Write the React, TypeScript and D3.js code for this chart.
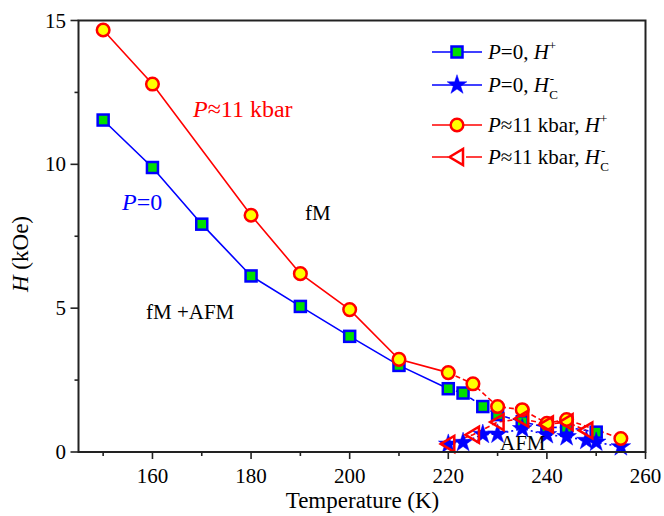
import React from "react";
import * as d3 from "d3";

const W = 664;
const HGT = 516;

// P=0, H+ (squares)
const sqT = [150, 160, 170, 180, 190, 200, 210, 220, 223, 227, 230, 235, 240, 244, 250];
const sqH = [11.54, 9.89, 7.92, 6.12, 5.06, 4.02, 3.01, 2.2, 2.05, 1.58, 1.3, 1.05, 0.85, 0.86, 0.69];

// P=0, Hc- (stars)
const stT = [220, 223, 227, 230, 235, 240, 244, 248, 250, 255];
const stH = [0.27, 0.33, 0.61, 0.62, 0.81, 0.6, 0.53, 0.4, 0.34, 0.18];

// P≈11 kbar, H+ (circles)
const ciT = [150, 160, 180, 190, 200, 210, 220, 225, 230, 235, 240, 244, 255];
const ciH = [14.67, 12.79, 8.23, 6.2, 4.95, 3.22, 2.76, 2.37, 1.58, 1.47, 1.0, 1.13, 0.47];

// P≈11 kbar, Hc- (triangles)
const trT = [220, 225, 230, 235, 240, 244, 248];
const trH = [0.28, 0.6, 1.04, 1.16, 0.96, 1.04, 0.75];

const xTicks = [160, 180, 200, 220, 240, 260];
const xMinor = [150, 170, 190, 210, 230, 250];
const yTicks = [0, 5, 10, 15];
const yMinor = [2.5, 7.5, 12.5];

const FONT = "Times New Roman";

const left = 78.5;
const right = 645.5;
const top = 20.5;
const bottom = 452;

const x = d3.scaleLinear().domain([145, 260]).range([left, right]);
const y = d3.scaleLinear().domain([0, 15]).range([bottom, top]);

const BLUE = "#0000ff";
const RED = "#ff0000";
const GREEN = "#00e000";
const YELLOW = "#ffff00";

function pts(ts: number[], hs: number[]) {
  return ts.map((t, i) => [t, hs[i]] as [number, number]);
}

const line = d3
  .line<[number, number]>()
  .x((d) => x(d[0]))
  .y((d) => y(d[1]));

const starPath = d3.symbol().type(d3.symbolStar).size(120)() as string;
const triPath = "M-7.5,0 L6,-8 L6,8 Z";

function Square({ cx, cy }: { cx: number; cy: number }) {
  return <rect x={cx - 5.5} y={cy - 5.5} width={11} height={11} fill={GREEN} stroke={BLUE} strokeWidth={2.5} />;
}
function Circle({ cx, cy }: { cx: number; cy: number }) {
  return <circle cx={cx} cy={cy} r={6.3} fill={YELLOW} stroke={RED} strokeWidth={2.5} />;
}
function Star({ cx, cy }: { cx: number; cy: number }) {
  return <path d={starPath} transform={`translate(${cx},${cy})`} fill={BLUE} stroke={BLUE} strokeWidth={0.5} />;
}
function Tri({ cx, cy }: { cx: number; cy: number }) {
  return <path d={triPath} transform={`translate(${cx},${cy})`} fill="none" stroke={RED} strokeWidth={2.5} strokeLinejoin="miter" />;
}

function splitLine(ts: number[], hs: number[], color: string) {
  const all = pts(ts, hs);
  const solid = all.filter((d) => d[0] <= 220);
  const dashed = all.filter((d) => d[0] >= 220);
  return (
    <g fill="none" stroke={color} strokeWidth={1.6}>
      <path d={line(solid) as string} />
      <path d={line(dashed) as string} strokeDasharray="5,3" />
    </g>
  );
}

export default function App() {
  const sq = pts(sqT, sqH);
  const st = pts(stT, stH);
  const ci = pts(ciT, ciH);
  const tr = pts(trT, trH);

  const legendRows = [52, 85, 125, 157];
  const lx0 = 432;
  const lx1 = 482;
  const lm = 457;
  const tx = 488;
  const fs = { fontFamily: FONT };

  return (
    <svg width={W} height={HGT} style={{ display: "block", position: "absolute", left: 0, top: 0 }}>
      <rect width={W} height={HGT} fill="white" />

      {/* lines */}
      {splitLine(sqT, sqH, BLUE)}
      <path d={line(st) as string} fill="none" stroke={BLUE} strokeWidth={1.6} strokeDasharray="2,3" />
      {splitLine(ciT, ciH, RED)}
      <path d={line(tr) as string} fill="none" stroke={RED} strokeWidth={1.6} strokeDasharray="5,3" />

      {/* markers */}
      {sq.map((d, i) => <Square key={"s" + i} cx={x(d[0])} cy={y(d[1])} />)}
      {st.map((d, i) => <Star key={"t" + i} cx={x(d[0])} cy={y(d[1])} />)}
      {ci.map((d, i) => <Circle key={"c" + i} cx={x(d[0])} cy={y(d[1])} />)}
      {tr.map((d, i) => <Tri key={"r" + i} cx={x(d[0])} cy={y(d[1])} />)}

      {/* frame */}
      <rect x={left} y={top} width={right - left} height={bottom - top} fill="none" stroke="#222" strokeWidth={2} />

      {/* x ticks */}
      {xTicks.map((t) => (
        <line key={"xt" + t} x1={x(t)} x2={x(t)} y1={bottom} y2={bottom + 7} stroke="#222" strokeWidth={1.6} />
      ))}
      {xTicks.map((t) => (
        <text key={"xl" + t} x={x(t)} y={483} fontSize={21} textAnchor="middle" style={fs}>{t}</text>
      ))}
      {xMinor.map((t) => (
        <line key={"xm" + t} x1={x(t)} x2={x(t)} y1={bottom} y2={bottom + 4} stroke="#222" strokeWidth={1.6} />
      ))}

      {/* y ticks */}
      {yTicks.map((v) => (
        <line key={"yt" + v} x1={left} x2={left - 8} y1={y(v)} y2={y(v)} stroke="#222" strokeWidth={1.6} />
      ))}
      {yTicks.map((v) => (
        <text key={"yl" + v} x={66} y={y(v) + 7} fontSize={21} textAnchor="end" style={fs}>{v}</text>
      ))}
      {yMinor.map((v) => (
        <line key={"ym" + v} x1={left} x2={left - 4} y1={y(v)} y2={y(v)} stroke="#222" strokeWidth={1.6} />
      ))}

      {/* axis titles */}
      <text x={362.5} y={508} fontSize={23} textAnchor="middle" style={fs}>Temperature (K)</text>
      <text transform="translate(28,254) rotate(-90)" fontSize={23} textAnchor="middle" style={fs}>
        <tspan fontStyle="italic">H</tspan> (kOe)
      </text>

      {/* annotations */}
      <text x={193} y={117} fontSize={24} fill={RED} style={fs}>
        <tspan fontStyle="italic">P</tspan>≈11 kbar
      </text>
      <text x={122} y={210} fontSize={24} fill={BLUE} style={fs}>
        <tspan fontStyle="italic">P</tspan>=0
      </text>
      <text x={305} y={220} fontSize={21} style={fs}>fM</text>
      <text x={146} y={319} fontSize={21} style={fs}>fM +AFM</text>
      <text x={500} y={450} fontSize={21} style={fs}>AFM</text>

      {/* legend */}
      <line x1={lx0} x2={lx1} y1={legendRows[0]} y2={legendRows[0]} stroke={BLUE} strokeWidth={1.6} />
      <Square cx={lm} cy={legendRows[0]} />
      <text x={tx} y={legendRows[0] + 7} fontSize={21} style={fs}>
        <tspan fontStyle="italic">P</tspan>=0, <tspan fontStyle="italic">H</tspan>
        <tspan fontSize={13} dy={-9}>+</tspan>
      </text>

      <line x1={lx0} x2={lx1} y1={legendRows[1]} y2={legendRows[1]} stroke={BLUE} strokeWidth={1.6} />
      <Star cx={lm} cy={legendRows[1]} />
      <text x={tx} y={legendRows[1] + 7} fontSize={21} style={fs}>
        <tspan fontStyle="italic">P</tspan>=0, <tspan fontStyle="italic">H</tspan>
        <tspan fontSize={13} dy={-9} dx={1}>-</tspan>
        <tspan fontSize={13} dy={16} dx={-5}>C</tspan>
      </text>

      <line x1={lx0} x2={lx1} y1={legendRows[2]} y2={legendRows[2]} stroke={RED} strokeWidth={1.6} />
      <Circle cx={lm} cy={legendRows[2]} />
      <text x={tx} y={legendRows[2] + 7} fontSize={21} style={fs}>
        <tspan fontStyle="italic">P</tspan>≈11 kbar, <tspan fontStyle="italic">H</tspan>
        <tspan fontSize={13} dy={-9}>+</tspan>
      </text>

      <line x1={lx0} x2={lx1} y1={legendRows[3]} y2={legendRows[3]} stroke={RED} strokeWidth={1.6} />
      <rect x={lm - 9} y={legendRows[3] - 10} width={18} height={20} fill="white" />
      <Tri cx={lm} cy={legendRows[3]} />
      <text x={tx} y={legendRows[3] + 7} fontSize={21} style={fs}>
        <tspan fontStyle="italic">P</tspan>≈11 kbar, <tspan fontStyle="italic">H</tspan>
        <tspan fontSize={13} dy={-9} dx={1}>-</tspan>
        <tspan fontSize={13} dy={16} dx={-5}>C</tspan>
      </text>
    </svg>
  );
}
